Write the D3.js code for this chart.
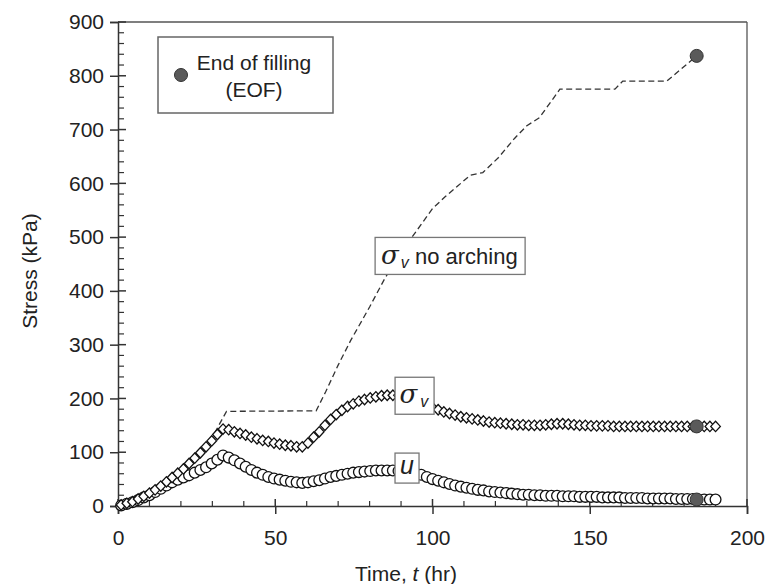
<!DOCTYPE html>
<html><head><meta charset="utf-8">
<script src="https://cdn.jsdelivr.net/npm/d3@7"></script>
<style>
html,body{margin:0;padding:0;background:#fff;}
svg text{font-family:"Liberation Sans",Arial,sans-serif;fill:#222;}
</style></head>
<body><svg id="c" width="769" height="584"></svg>
<script>
// ---- data ----
const times = [1,2.8,4.6,6.4,8.2,10,11.8,13.6,15.4,17.2,19,20.8,22.6,24.4,26.2,28,29.8,31.6,33.4,35.2,37,38.8,40.6,42.4,44.2,46,47.8,49.6,51.4,53.2,55,56.8,58.6,60.4,62.2,64,65.8,67.6,69.4,71.2,73,74.8,76.6,78.4,80.2,82,83.8,85.6,87.4,89.2,91,92.8,94.6,96.4,98.2,100,101.8,103.6,105.4,107.2,109,110.8,112.6,114.4,116.2,118,119.8,121.6,123.4,125.2,127,128.8,130.6,132.4,134.2,136,137.8,139.6,141.4,143.2,145,146.8,148.6,150.4,152.2,154,155.8,157.6,159.4,161.2,163,164.8,166.6,168.4,170.2,172,173.8,175.6,177.4,179.2,181,182.8,184.6,186.4,188.2,190];
const sigmaV = [2,5,8,13,18,24,30,37,45,53,61,69,79,89,99,110,121,133,143,142,138,135,132,128,125,122,120,117,115,113,112,110,110,117,128,138,150,161,170,178,185,190,195,198,201,203,205,206,206,206,204,201,197,192,187,183,179,175,172,169,166,164,162,160,158,156,155,154,153,152,151,151,150,150,150,151,152,153,153,152,151,150,150,149,149,149,149,148,148,148,148,148,148,148,148,148,148,148,148,148,148,148,148,148,148,148];
const poreU = [1,4,7,11,16,20,26,32,38,44,49,53,57,62,67,72,79,86,94,90,85,79,73,67,62,58,54,51,49,47,45,44,43,44,46,48,51,54,56,58,60,62,63,64,65,66,66,66,66,65,64,63,61,58,54,50,47,44,41,38,36,34,32,30,29,27,26,25,24,23,22,21,21,20,20,19,19,19,18,18,18,17,17,17,17,16,16,16,16,15,15,15,15,14,14,14,14,14,13,13,13,13,12,12,12,12];
const noArchT = [0,5,10,15,20,25,30,34.5,63,66,70,74,80,85,90,93.5,100,104,108,112,116,121,126,130,134,140.5,158,160.5,174.5,184];
const noArchV = [0,10,25,42,66,93,128,176,177,212,262,308,370,425,470,500,553,575,595,615,620,648,683,707,722,775,775,790,790,837];
const eofT = [184,184,184];
const eofV = [837,148,12];
const xTicks = [0,50,100,150,200];
const yTicks = [0,100,200,300,400,500,600,700,800,900];
const xMinor = [10,20,30,40,60,70,80,90,110,120,130,140,160,170,180,190];
const yMinor = [20,40,60,80,120,140,160,180,220,240,260,280,320,340,360,380,420,440,460,480,520,540,560,580,620,640,660,680,720,740,760,780,820,840,860,880];

// ---- layout ----
const svg = d3.select('#c');
const L = 118, R = 747, T = 22, B = 506;
const x = d3.scaleLinear().domain([0,200]).range([L,R]);
const y = d3.scaleLinear().domain([0,900]).range([B,T]);
const ink = '#222', axisCol = '#333';

// frame (top & right)
svg.append('line').attr('x1',x(0)).attr('x2',x(200)).attr('y1',y(900)).attr('y2',y(900)).attr('stroke','#555').attr('stroke-width',1.3);
svg.append('line').attr('x1',x(200)).attr('x2',x(200)).attr('y1',y(900)).attr('y2',y(0)).attr('stroke','#555').attr('stroke-width',1.3);

// axes
const fs = 21;
const gx = svg.append('g').attr('transform',`translate(0,${B})`)
  .call(d3.axisBottom(x).tickValues(xTicks).tickSize(8).tickPadding(16).tickFormat(d3.format('d')));
const gy = svg.append('g').attr('transform',`translate(${L},0)`)
  .call(d3.axisLeft(y).tickValues(yTicks).tickSize(8).tickPadding(6).tickFormat(d3.format('d')));
[gx,gy].forEach(g=>{
  g.select('.domain').attr('stroke',axisCol).attr('stroke-width',1.5);
  g.selectAll('.tick line').attr('stroke',axisCol).attr('stroke-width',1.5);
  g.selectAll('.tick text').attr('font-size',fs).attr('fill',ink).attr('font-family','"Liberation Sans",Arial,sans-serif');
});
// inner halves of major ticks
svg.append('g').selectAll('line').data(xTicks).join('line')
  .attr('x1',d=>x(d)).attr('x2',d=>x(d)).attr('y1',B).attr('y2',B-7).attr('stroke',axisCol).attr('stroke-width',1.5);
svg.append('g').selectAll('line').data(yTicks).join('line')
  .attr('x1',L).attr('x2',L+8).attr('y1',d=>y(d)).attr('y2',d=>y(d)).attr('stroke',axisCol).attr('stroke-width',1.5);
// minor ticks (inside)
svg.append('g').selectAll('line').data(xMinor).join('line')
  .attr('x1',d=>x(d)).attr('x2',d=>x(d)).attr('y1',B).attr('y2',B-5).attr('stroke',axisCol).attr('stroke-width',1.2);
svg.append('g').selectAll('line').data(yMinor).join('line')
  .attr('x1',L).attr('x2',L+6).attr('y1',d=>y(d)).attr('y2',d=>y(d)).attr('stroke',axisCol).attr('stroke-width',1.2);

// axis titles
svg.append('text').attr('transform',`translate(37,${(T+B)/2+7}) rotate(-90)`).attr('text-anchor','middle')
  .attr('font-size',21).text('Stress (kPa)');
const xt = svg.append('text').attr('x',406).attr('y',581).attr('text-anchor','middle').attr('font-size',21);
xt.append('tspan').text('Time, ');
xt.append('tspan').attr('font-style','italic').text('t');
xt.append('tspan').text(' (hr)');

// no-arching dashed line
const noArch = noArchT.map((t,i)=>[t,noArchV[i]]);
svg.append('path').datum(noArch)
  .attr('d',d3.line().x(d=>x(d[0])).y(d=>y(d[1])))
  .attr('fill','none').attr('stroke','#333').attr('stroke-width',1.3).attr('stroke-dasharray','6,3.5');

// u circles
const uData = times.map((t,i)=>[t,poreU[i]]);
svg.append('g').selectAll('circle').data(uData).join('circle')
  .attr('cx',d=>x(d[0])).attr('cy',d=>y(d[1])).attr('r',5.4)
  .attr('fill','#fff').attr('stroke','#111').attr('stroke-width',1.3);

// sigma_v diamonds
const sData = times.map((t,i)=>[t,sigmaV[i]]);
const dia = 'M0,-5.2L4.8,0L0,5.2L-4.8,0Z';
svg.append('g').selectAll('path').data(sData).join('path')
  .attr('d',dia).attr('transform',d=>`translate(${x(d[0])},${y(d[1])})`)
  .attr('fill','#fff').attr('stroke','#111').attr('stroke-width',1.3);

// EOF points
svg.append('g').selectAll('circle').data(eofT.map((t,i)=>[t,eofV[i]])).join('circle')
  .attr('cx',d=>x(d[0])).attr('cy',d=>y(d[1])).attr('r',6.5)
  .attr('fill','#5a5a5a').attr('stroke','#333').attr('stroke-width',1);

// label boxes
function boxLabel(cx, cy, w, h, build){
  const g = svg.append('g');
  g.append('rect').attr('x',cx-w/2).attr('y',cy-h/2).attr('width',w).attr('height',h)
    .attr('fill','#fff').attr('stroke','#777').attr('stroke-width',1.3);
  build(g);
  return g;
}
// sigma_v no arching
boxLabel(x(105.6), y(465), 150, 37, g=>{
  const t = g.append('text').attr('x',x(105.6)-69).attr('y',y(465)+8).attr('font-size',22);
  t.append('tspan').attr('font-style','italic').attr('font-size',26).attr('font-family','"DejaVu Serif",serif').text('σ');
  t.append('tspan').attr('font-style','italic').attr('font-size',16).attr('dy',4).attr('dx',2).text('v');
  t.append('tspan').attr('dy',-4).text(' no arching');
});
// sigma_v
boxLabel(x(94.3), y(205), 39, 37, g=>{
  const t = g.append('text').attr('x',x(94.3)-15).attr('y',y(205)+7).attr('font-size',22);
  t.append('tspan').attr('font-style','italic').attr('font-size',26).attr('font-family','"DejaVu Serif",serif').text('σ');
  t.append('tspan').attr('font-style','italic').attr('font-size',16).attr('dy',4).attr('dx',3).text('v');
});
// u
boxLabel(x(91.9), y(70.5), 24, 30, g=>{
  g.append('text').attr('x',x(91.9)).attr('y',y(70.5)+6).attr('text-anchor','middle')
    .attr('font-size',25).attr('font-style','italic').text('u');
});

// legend
const lg = svg.append('g');
lg.append('rect').attr('x',158).attr('y',37).attr('width',175).attr('height',76)
  .attr('fill','#fff').attr('stroke','#666').attr('stroke-width',1.5);
lg.append('circle').attr('cx',181).attr('cy',75).attr('r',6.5).attr('fill','#5a5a5a').attr('stroke','#333');
lg.append('text').attr('x',254).attr('y',70).attr('text-anchor','middle').attr('font-size',21).text('End of filling');
lg.append('text').attr('x',254).attr('y',97).attr('text-anchor','middle').attr('font-size',21).text('(EOF)');
</script></body></html>
